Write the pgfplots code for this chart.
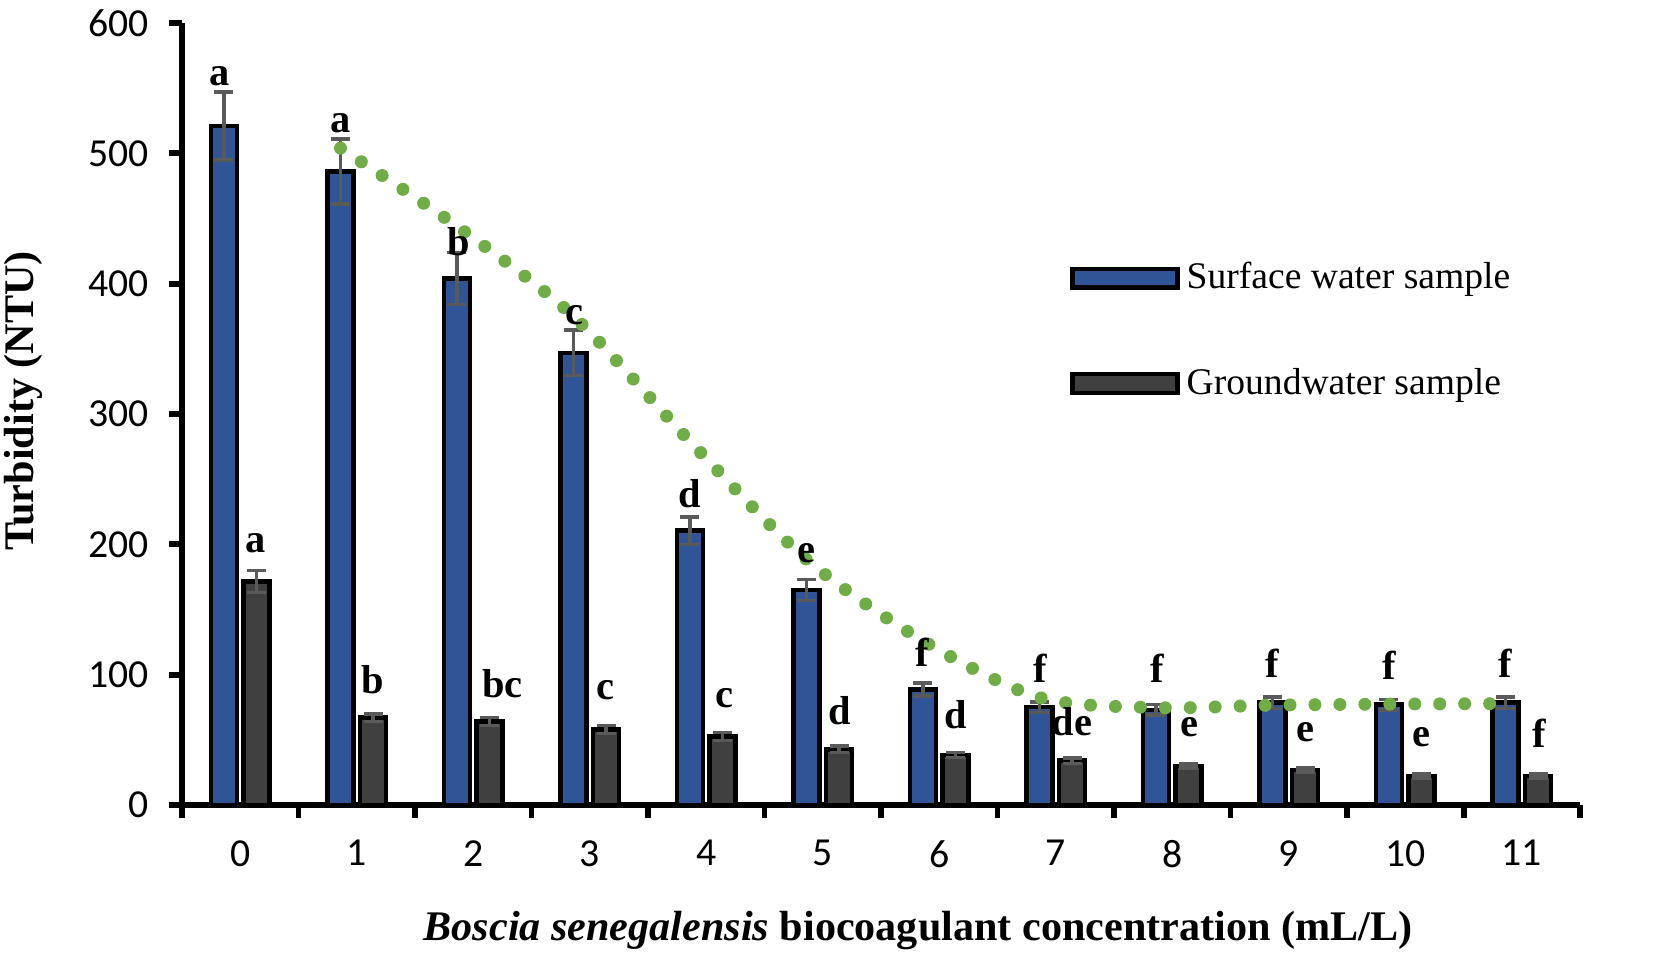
\documentclass[border=0pt]{standalone}
\usepackage{fontspec}
\setmainfont{Liberation Serif}
\newfontfamily\carlito{Carlito}
\usepackage{pgfplots}
\pgfplotsset{compat=1.18}
\usepackage{pgfplotstable}
\definecolor{surf}{HTML}{2F5597}
\definecolor{grnd}{HTML}{404040}
\definecolor{errg}{HTML}{5A5A5A}
\definecolor{trend}{HTML}{70AD47}
\pgfplotsset{boxlegend/.style={legend image code/.code={\draw[##1, line width=1.2pt] (0cm,-0.094cm) rectangle (1.05cm,0.094cm);}}}

\pgfplotstableread{
x y e
0 521 26
1 486 25
2 404 20
3 347 17.5
4 210.5 10.5
5 165 8
6 88.5 5
7 75 4
8 73 4
9 78.5 4.5
10 77 4
11 78.5 4.5
}\surface

\pgfplotstableread{
x y e
0 171.5 8.6
1 67 3
2 64 3
3 58 3
4 52.5 3
5 42.6 2.5
6 38.3 2
7 34 2
8 30 1.5
9 26.7 1.5
10 22.4 1.5
11 22.4 1.5
}\ground

\pgfplotstableread{
x y
0.86 504
1.86 444
2.86 375
3.86 279
4.86 188.5
5.86 126
6.86 82.5
7.86 74.7
8.86 76.6
9.86 77.4
10.86 77.8
}\trendtab

\pgfplotstableread{
x y t
-0.18 559 a
0.865 523 a
1.876 432 b
2.87 376 c
3.855 239 d
4.86 193 e
5.85 117.5 f
6.865 104.6 f
7.87 104.6 f
8.86 108.4 f
9.86 107.2 f
10.86 108.4 f
0.13 201 a
1.134 96.4 b
2.249 93.2 bc
3.136 88.3 c
4.155 81.6 c
5.146 72.7 d
6.14 69 d
7.14 63.7 de
8.147 59.8 e
9.14 56 e
10.14 52.2 e
11.15 54.7 f
}\labtab

\begin{document}
\begin{tikzpicture}
\useasboundingbox (-1.82cm,-1.74cm) rectangle (14.72cm,8.05cm);
\begin{axis}[
  at={(0,0)}, anchor=south west,
  scale only axis, width=13.98cm, height=7.82cm,
  xmin=-0.5, xmax=11.5, ymin=0, ymax=600,
  clip=false,
  axis x line*=bottom, axis y line*=left,
  axis line style={line width=1.7pt, black, -},
  tick align=outside,
  major tick length=0.13cm,
  tick style={line width=1.7pt, black},
  xtick={-0.5,0.5,...,11.5},
  x tick label as interval,
  xticklabels={0,1,2,3,4,5,6,7,8,9,10,11},
  xticklabel style={yshift=-0.1cm},
  yticklabel style={xshift=-0.08cm},
  ytick={0,100,...,600},
  /pgf/number format/assume math mode=true,
  ticklabel style={font=\carlito\fontsize{11.3}{13}\selectfont},
  xlabel={\textit{Boscia senegalensis} biocoagulant concentration (mL/L)},
  xlabel style={at={(axis description cs:0.5265,-0.161)}, anchor=center, font=\bfseries\fontsize{12}{14}\selectfont},
  ylabel={Turbidity (NTU)},
  ylabel style={at={(axis description cs:-0.1137,0.5166)}, anchor=center, font=\bfseries\fontsize{12}{14}\selectfont},
  legend style={draw=none, fill=none, at={(axis description cs:0.635,0.704)}, anchor=north west,
    font=\fontsize{10.7}{12}\selectfont, row sep=0.6cm, inner sep=0pt},
  legend cell align=left,
]
\addplot[ybar, bar width=0.223, bar shift=0, fill=surf, draw=black, line width=1.25pt, boxlegend,
  error bars/.cd, y dir=both, y explicit, error mark=|,
  error bar style={line width=1pt, errg},
  error mark options={line width=1pt, errg, mark size=2.7pt}]
  table[x expr=\thisrow{x}-0.14, y=y, y error=e] {\surface};
\addlegendentry{Surface water sample}
\addplot[ybar, bar width=0.223, bar shift=0, fill=grnd, draw=black, line width=1.25pt, boxlegend,
  error bars/.cd, y dir=both, y explicit, error mark=|,
  error bar style={line width=1pt, errg},
  error mark options={line width=1pt, errg, mark size=2.7pt}]
  table[x expr=\thisrow{x}+0.14, y=y, y error=e] {\ground};
\addlegendentry{Groundwater sample}
\addplot[forget plot, mark=none, draw=none, nodes near coords, point meta=explicit symbolic,
  every node near coord/.style={anchor=center, inner sep=0pt, font=\bfseries\fontsize{11.5}{13}\selectfont}]
  table[x=x, y=y, meta=t] {\labtab};
\addplot[forget plot, smooth, trend, line width=3.7pt, line cap=round, dash pattern=on 0pt off 7.1pt]
  table[x=x, y=y] {\trendtab};
\end{axis}
\end{tikzpicture}
\end{document}
